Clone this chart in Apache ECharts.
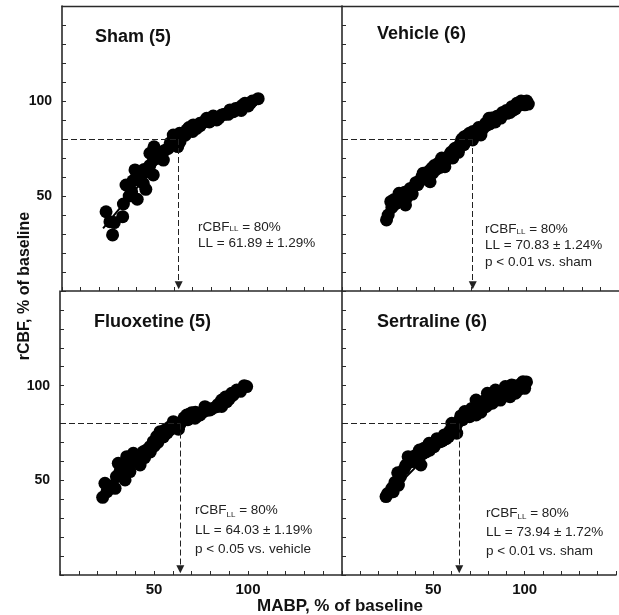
<!DOCTYPE html>
<html><head><meta charset="utf-8">
<script src="https://cdn.jsdelivr.net/npm/echarts@6/dist/echarts.min.js"></script>
<style>html,body{margin:0;padding:0;background:#fff}#c{width:619px;height:615px}</style>
</head><body><div id="c"></div>
<script>
// ---------- data ----------
const panelTitles = ['Sham (5)', 'Vehicle (6)', 'Fluoxetine (5)', 'Sertraline (6)'];
const rcbfLL = 80;
const llText = ['61.89 \u00b1 1.29%', '70.83 \u00b1 1.24%', '64.03 \u00b1 1.19%', '73.94 \u00b1 1.72%'];
const pText = ['', 'p < 0.01 vs. sham', 'p < 0.05 vs. vehicle', 'p < 0.01 vs. sham'];
const arrowX = [62.5, 70.8, 64.0, 64.2];   // position of the dashed drop line as drawn
const tickLabels = [50, 100];
const axisMin = 0, axisMax = 150, tickStep = 10;

const shamPts = [[23.6,41.7],[25.7,36.5],[27.1,29.5],[28,36],[32.5,39.1],[32.9,45.8],[34.3,55.8],[36,50],
  [37.3,52.3],[38,58],[39.1,63.7],[40.3,48.3],[41.8,58.4],[42,60],[43.5,56.7],[44,64],[44.9,53.5],[45.4,62.8],
  [47,66],[47.1,72.5],[48.9,61.1],[49,70],[49.3,75.9],[50.7,69.8],[52,72],[54.3,68.9],[55,74],[56.9,75.1],
  [58,78],[59.6,82.1],[60,80],[62,76],[63.2,78.6],[63,83],[64.1,81.2],[66,82],[66.8,84.7],[68,86],[70,84],
  [70.3,87.4],[72.1,85.6],[73.9,88.3],[74,87],[76,89],[77.5,90.9],[79,89],[81,92.1],[82,91],[82.9,90],
  [84,91],[85.5,92.6],[87,93],[89,93],[90,95.3],[91.8,94.4],[93,96],[95.3,96.7],[96,95],[97,98],[98,98.8],
  [99.8,97.4],[101,99],[102,100],[105.1,101.2]];
const vehiclePts = [[24.1,37.4],[25,40],[26.4,47],[27,44],[28,48],[29,46],[30.9,51.4],[31,48],[32.6,47.9],
  [33,50],[34,52],[34.4,45.3],[35,49],[36.2,52.3],[37,54],[38,51],[39.7,55.8],[40,57],[41,56],[42,58],
  [43.3,60.2],[44,62],[45,59],[46,61],[47,63],[47.7,57.5],[48.6,64.6],[49,62],[50,66],[51,64],[52.1,67.2],
  [53,65],[53.9,68.9],[54,70],[55.7,65.4],[56,68],[57,70],[58.3,71.6],[59,73],[60,70],[61,72.5],[61,75],
  [62.8,75.9],[63,73],[64,76],[64.5,78.6],[65,80],[66,77],[66.3,81.2],[67,79],[68,82],[69,83],[70,81],
  [70.7,79.5],[71,84],[72,82],[73.4,83.8],[74,86],[75.2,82.1],[76,85],[77.8,88.3],[78,87],[79.6,90.9],
  [80,88],[81,91],[82.3,90],[83,89],[84,92],[85.8,92.6],[86,91],[87,94],[89,95],[89.4,93.5],[91,94],
  [92,97],[92.9,95.3],[94,96],[94.7,98.8],[96,98],[97,100],[98.2,99.6],[99,98],[100,100],[100.9,98.4]];
const fluoxetinePts = [[22.7,41],[23.9,48.4],[25,44],[27,47],[29.3,45.8],[30,52],[31,59],[32,55],[33,57],
  [34.6,50.2],[35.5,62.5],[36,58],[37.2,54.6],[38,60],[39,64.3],[40,62],[41,60],[42.6,58.1],[43,63],
  [44.3,65.1],[45,62],[46,66],[47.9,67.8],[48,65],[49.6,70.4],[50,68],[51.4,73.1],[52,70],[53,72],
  [53.2,75.7],[55,73],[55.9,76.6],[57,75],[58.5,78.3],[59,77],[60.3,81],[61,79],[62.1,78],[63,77],
  [64,80],[65.6,81.9],[66,83],[67.4,84.5],[68,82],[69,85],[70,85.7],[71.8,82.8],[72,86],[73,84],
  [74.5,84.5],[76,86],[77.1,88.9],[78,87],[79.8,87.2],[81,88],[83.3,88.9],[84,90],[86,92.4],[86,89],
  [88,94],[88.7,91.5],[90,93],[91.3,96],[92,95],[94,97.7],[96,97],[98,100],[99.3,99.5]];
const sertralinePts = [[24.1,41.4],[25,43],[27.3,45.8],[28,44],[29,49],[30.5,54],[30.9,47.5],[32,52],
  [34,56],[35,58],[36.2,62.5],[37,60],[38.8,59.9],[40,63],[41,60],[42.4,66],[43.2,58.1],[44,64],[45,67],
  [46,65],[47.7,69.6],[48,66],[49,69],[50.4,67.8],[51,69],[52,72],[53.9,70.4],[55,71],[56,74],[57,72],
  [58.3,73.1],[59,76],[60.1,80.1],[61,78],[62,77],[62.8,74.9],[63,80],[64.5,81.9],[65,84],[66,82],
  [67.2,86.3],[68,85],[69.8,83.6],[70,86],[71,88],[72,85],[73.4,84.5],[73.4,92.4],[74,88],[75,90],
  [76,86],[77,88.1],[78,92],[79,89],[79.6,96],[81,94],[82.3,90.7],[82,91],[84,97.7],[84,95],[85,93],
  [86.7,92.4],[87,97],[88,94],[89.4,99.5],[90,96],[91,98],[92,94.2],[92.9,100.4],[93,97],[94,100],
  [95,96],[96.4,97.7],[97,99],[98,101],[99.1,102.1],[100,98.6],[100,100],[101,102]];
const shamFit = [[22,33],[61.9,80],[105,101]];
const vehicleFit = [[23,37],[70.8,80],[101,99]];
const fluoxetineFit = [[22,41],[64,80],[100,100]];
const sertralineFit = [[24,41],[64,80],[101,101]];

const allPts = [shamPts, vehiclePts, fluoxetinePts, sertralinePts];
const allFits = [shamFit, vehicleFit, fluoxetineFit, sertralineFit];

// ---------- layout ----------
const FONT = '"Liberation Sans", Arial, Helvetica, sans-serif';
const grids = [
  {left: 62, top: 6, width: 280, height: 285},
  {left: 342, top: 6, width: 282, height: 285},
  {left: 60, top: 291, width: 282, height: 284},
  {left: 342, top: 291, width: 282, height: 284}
];
const lineCol = '#2a2a2a';
function labelFmt(v) { return tickLabels.indexOf(v) >= 0 ? String(v) : ''; }

const xAxes = [], yAxes = [];
for (let i = 0; i < 4; i++) {
  const showX = i >= 2, showY = (i % 2) === 0;
  xAxes.push({
    type: 'value', gridIndex: i, min: axisMin, max: axisMax, interval: tickStep, position: 'bottom',
    axisLine: {show: true, onZero: false, lineStyle: {color: lineCol, width: 1.6}},
    axisTick: {show: true, inside: true, length: 4, lineStyle: {color: lineCol, width: 1}},
    axisLabel: {show: showX, formatter: labelFmt, margin: 7, fontSize: 15, fontWeight: 'bold', color: '#111', fontFamily: FONT},
    splitLine: {show: false}
  });
  yAxes.push({
    type: 'value', gridIndex: i, min: axisMin, max: axisMax, interval: tickStep,
    axisLine: {show: true, onZero: false, lineStyle: {color: lineCol, width: 1.6}},
    axisTick: {show: true, inside: true, length: 4, lineStyle: {color: lineCol, width: 1}},
    axisLabel: {show: showY, formatter: labelFmt, margin: 10, fontSize: 14, fontWeight: 'bold', color: '#111', fontFamily: FONT},
    splitLine: {show: false}
  });
}
// top border lines for the upper panels
[0, 1].forEach(g => xAxes.push({
  type: 'value', gridIndex: g, min: axisMin, max: axisMax, position: 'top',
  axisLine: {show: true, onZero: false, lineStyle: {color: lineCol, width: 1.4}},
  axisTick: {show: false}, axisLabel: {show: false}, splitLine: {show: false}
}));

const series = [];
for (let i = 0; i < 4; i++) {
  const ax = arrowX[i];
  series.push({
    type: 'line', xAxisIndex: i, yAxisIndex: i, data: [], z: 1, silent: true,
    markLine: {
      silent: true, symbol: ['none', 'none'], animation: false,
      label: {show: false},
      lineStyle: {type: [6, 3], color: '#222', width: 1},
      data: [
        [{coord: [axisMin, rcbfLL]}, {coord: [ax, rcbfLL]}],
        [{coord: [ax, rcbfLL], symbol: 'none'}, {coord: [ax, 3], symbol: 'triangle', symbolSize: [8, 8]}]
      ]
    }
  });
  series.push({
    type: 'line', xAxisIndex: i, yAxisIndex: i, data: allFits[i], showSymbol: false, symbol: 'none',
    lineStyle: {color: '#000', width: 2}, z: 2, silent: true, animation: false
  });
  series.push({
    type: 'scatter', xAxisIndex: i, yAxisIndex: i, data: allPts[i], symbol: 'circle', symbolSize: 13,
    itemStyle: {color: '#000', opacity: 1, borderWidth: 0}, z: 3, silent: true, animation: false
  });
}

const titlePos = [[95, 28], [377, 25], [94, 313], [377, 313]];
const annPos = [[198, 219, 16], [485, 221, 16.5], [195, 501, 19.5], [486, 504, 19]];
const titles = [];
for (let i = 0; i < 4; i++) {
  titles.push({
    text: panelTitles[i], left: titlePos[i][0], top: titlePos[i][1], padding: 0,
    textStyle: {fontSize: 18, fontWeight: 'bold', color: '#111', fontFamily: FONT}
  });
  const lh = annPos[i][2];
  let txt = '{a|rCBF}{s|LL}{a| = ' + rcbfLL + '%}\n{a|LL = ' + llText[i] + '}';
  if (pText[i]) txt += '\n{a|' + pText[i] + '}';
  titles.push({
    text: txt, left: annPos[i][0], top: annPos[i][1], padding: 0,
    textStyle: {
      fontSize: 13.5, fontWeight: 'normal', color: '#222', fontFamily: FONT, lineHeight: lh,
      rich: {
        a: {fontSize: 13.5, fontWeight: 'normal', color: '#222', fontFamily: FONT, lineHeight: lh},
        s: {fontSize: 8, fontWeight: 'normal', color: '#222', fontFamily: FONT, lineHeight: lh, verticalAlign: 'bottom', padding: [0, 0, 2, 0]}
      }
    }
  });
}

const chart = echarts.init(document.getElementById('c'), null, {renderer: 'canvas'});
chart.setOption({
  animation: false,
  backgroundColor: '#fff',
  title: titles,
  grid: grids,
  xAxis: xAxes,
  yAxis: yAxes,
  series: series,
  graphic: [
    {type: 'text', x: 25, y: 286, rotation: Math.PI / 2,
     style: {text: 'rCBF, % of baseline', fontSize: 16, fontWeight: 'bold', fill: '#111', fontFamily: FONT,
             align: 'center', verticalAlign: 'middle'}},
    {type: 'text', x: 340, y: 606,
     style: {text: 'MABP, % of baseline', fontSize: 17, fontWeight: 'bold', fill: '#111', fontFamily: FONT,
             align: 'center', verticalAlign: 'middle'}}
  ]
});
</script>
</body></html>
